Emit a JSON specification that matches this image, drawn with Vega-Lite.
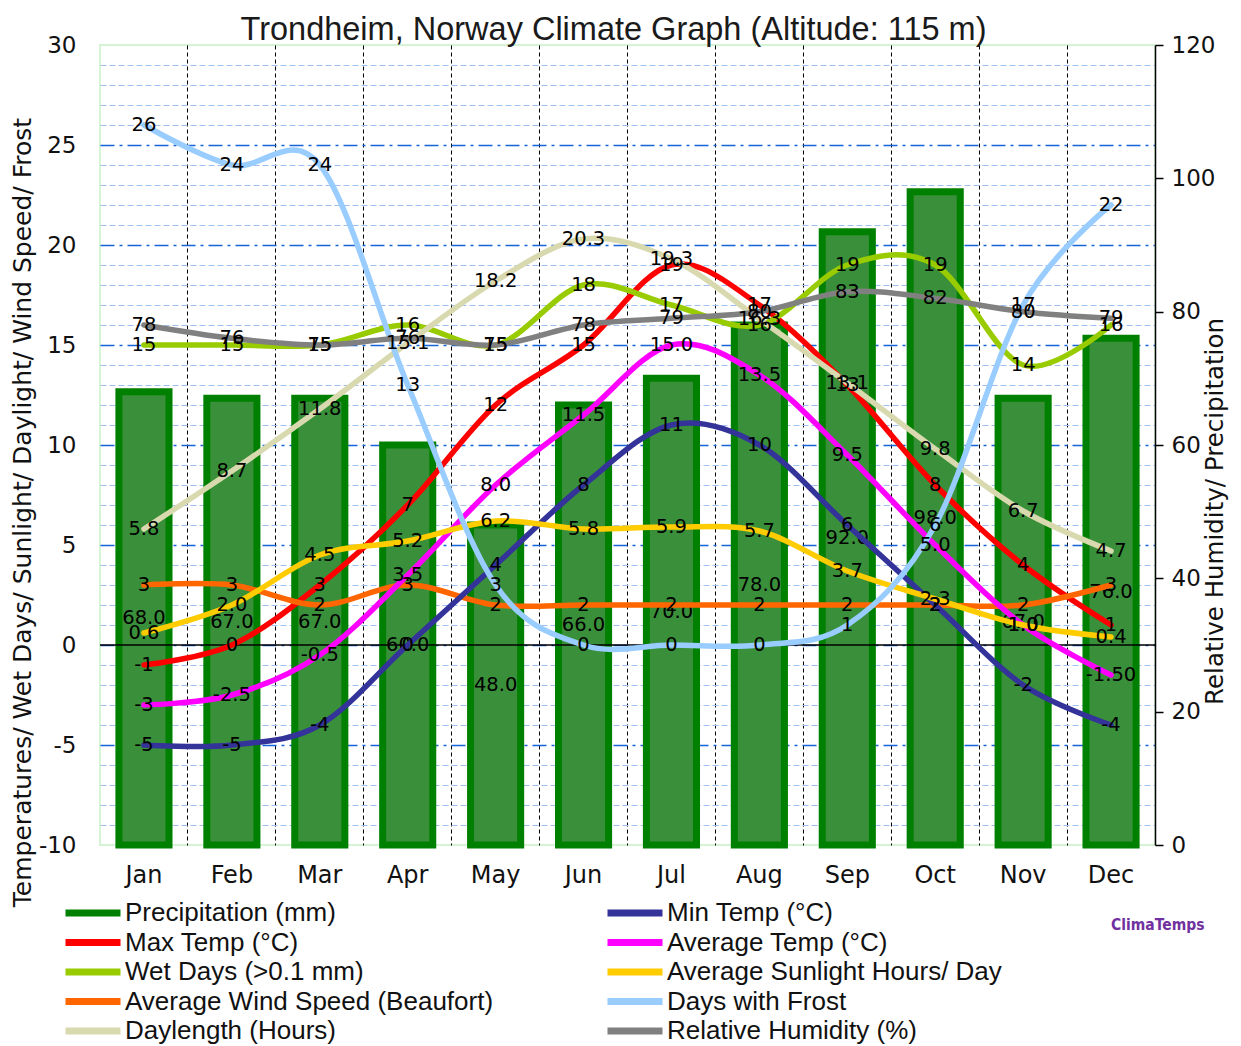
{
"$schema": "https://vega.github.io/schema/vega-lite/v6.json",
"width": 1055, "height": 800,
"autosize": {"type": "none"},
"padding": {"left": 100, "top": 45, "right": 86, "bottom": 201},
"background": "white",
"config": {"view": {"stroke": "#c8f0c8", "strokeWidth": 1.5}, "font": "DejaVu Sans"},
"title": {"text": "Trondheim, Norway Climate Graph (Altitude: 115 m)", "font": "Liberation Sans Narrow, Liberation Sans, sans-serif", "fontSize": 32.5, "fontWeight": "normal", "color": "#1a1a1a", "anchor": "middle", "frame": "group", "offset": 4, "dy": 16, "dx": -14},
"datasets": {"d": [
{"m":"Jan","s":"Precipitation (mm)","v":68,"t":"68.0"},{"m":"Feb","s":"Precipitation (mm)","v":67,"t":"67.0"},{"m":"Mar","s":"Precipitation (mm)","v":67,"t":"67.0"},{"m":"Apr","s":"Precipitation (mm)","v":60,"t":"60.0"},{"m":"May","s":"Precipitation (mm)","v":48,"t":"48.0"},{"m":"Jun","s":"Precipitation (mm)","v":66,"t":"66.0"},{"m":"Jul","s":"Precipitation (mm)","v":70,"t":"70.0"},{"m":"Aug","s":"Precipitation (mm)","v":78,"t":"78.0"},{"m":"Sep","s":"Precipitation (mm)","v":92,"t":"92.0"},{"m":"Oct","s":"Precipitation (mm)","v":98,"t":"98.0"},{"m":"Nov","s":"Precipitation (mm)","v":67,"t":"67.0"},{"m":"Dec","s":"Precipitation (mm)","v":76,"t":"76.0"},
{"m":"Jan","s":"Max Temp (°C)","v":-1,"t":"-1"},{"m":"Feb","s":"Max Temp (°C)","v":0,"t":"0"},{"m":"Mar","s":"Max Temp (°C)","v":3,"t":"3"},{"m":"Apr","s":"Max Temp (°C)","v":7,"t":"7"},{"m":"May","s":"Max Temp (°C)","v":12,"t":"12"},{"m":"Jun","s":"Max Temp (°C)","v":15,"t":"15"},{"m":"Jul","s":"Max Temp (°C)","v":19,"t":"19"},{"m":"Aug","s":"Max Temp (°C)","v":17,"t":"17"},{"m":"Sep","s":"Max Temp (°C)","v":13,"t":"13"},{"m":"Oct","s":"Max Temp (°C)","v":8,"t":"8"},{"m":"Nov","s":"Max Temp (°C)","v":4,"t":"4"},{"m":"Dec","s":"Max Temp (°C)","v":1,"t":"1"},
{"m":"Jan","s":"Wet Days (>0.1 mm)","v":15,"t":"15"},{"m":"Feb","s":"Wet Days (>0.1 mm)","v":15,"t":"15"},{"m":"Mar","s":"Wet Days (>0.1 mm)","v":15,"t":"15"},{"m":"Apr","s":"Wet Days (>0.1 mm)","v":16,"t":"16"},{"m":"May","s":"Wet Days (>0.1 mm)","v":15,"t":"15"},{"m":"Jun","s":"Wet Days (>0.1 mm)","v":18,"t":"18"},{"m":"Jul","s":"Wet Days (>0.1 mm)","v":17,"t":"17"},{"m":"Aug","s":"Wet Days (>0.1 mm)","v":16,"t":"16"},{"m":"Sep","s":"Wet Days (>0.1 mm)","v":19,"t":"19"},{"m":"Oct","s":"Wet Days (>0.1 mm)","v":19,"t":"19"},{"m":"Nov","s":"Wet Days (>0.1 mm)","v":14,"t":"14"},{"m":"Dec","s":"Wet Days (>0.1 mm)","v":16,"t":"16"},
{"m":"Jan","s":"Average Wind Speed (Beaufort)","v":3,"t":"3"},{"m":"Feb","s":"Average Wind Speed (Beaufort)","v":3,"t":"3"},{"m":"Mar","s":"Average Wind Speed (Beaufort)","v":2,"t":"2"},{"m":"Apr","s":"Average Wind Speed (Beaufort)","v":3,"t":"3"},{"m":"May","s":"Average Wind Speed (Beaufort)","v":2,"t":"2"},{"m":"Jun","s":"Average Wind Speed (Beaufort)","v":2,"t":"2"},{"m":"Jul","s":"Average Wind Speed (Beaufort)","v":2,"t":"2"},{"m":"Aug","s":"Average Wind Speed (Beaufort)","v":2,"t":"2"},{"m":"Sep","s":"Average Wind Speed (Beaufort)","v":2,"t":"2"},{"m":"Oct","s":"Average Wind Speed (Beaufort)","v":2,"t":"2"},{"m":"Nov","s":"Average Wind Speed (Beaufort)","v":2,"t":"2"},{"m":"Dec","s":"Average Wind Speed (Beaufort)","v":3,"t":"3"},
{"m":"Jan","s":"Daylength (Hours)","v":5.8,"t":"5.8"},{"m":"Feb","s":"Daylength (Hours)","v":8.7,"t":"8.7"},{"m":"Mar","s":"Daylength (Hours)","v":11.8,"t":"11.8"},{"m":"Apr","s":"Daylength (Hours)","v":15.1,"t":"15.1"},{"m":"May","s":"Daylength (Hours)","v":18.2,"t":"18.2"},{"m":"Jun","s":"Daylength (Hours)","v":20.3,"t":"20.3"},{"m":"Jul","s":"Daylength (Hours)","v":19.3,"t":"19.3"},{"m":"Aug","s":"Daylength (Hours)","v":16.3,"t":"16.3"},{"m":"Sep","s":"Daylength (Hours)","v":13.1,"t":"13.1"},{"m":"Oct","s":"Daylength (Hours)","v":9.8,"t":"9.8"},{"m":"Nov","s":"Daylength (Hours)","v":6.7,"t":"6.7"},{"m":"Dec","s":"Daylength (Hours)","v":4.7,"t":"4.7"},
{"m":"Jan","s":"Min Temp (°C)","v":-5,"t":"-5"},{"m":"Feb","s":"Min Temp (°C)","v":-5,"t":"-5"},{"m":"Mar","s":"Min Temp (°C)","v":-4,"t":"-4"},{"m":"Apr","s":"Min Temp (°C)","v":0,"t":"0"},{"m":"May","s":"Min Temp (°C)","v":4,"t":"4"},{"m":"Jun","s":"Min Temp (°C)","v":8,"t":"8"},{"m":"Jul","s":"Min Temp (°C)","v":11,"t":"11"},{"m":"Aug","s":"Min Temp (°C)","v":10,"t":"10"},{"m":"Sep","s":"Min Temp (°C)","v":6,"t":"6"},{"m":"Oct","s":"Min Temp (°C)","v":2,"t":"2"},{"m":"Nov","s":"Min Temp (°C)","v":-2,"t":"-2"},{"m":"Dec","s":"Min Temp (°C)","v":-4,"t":"-4"},
{"m":"Jan","s":"Average Temp (°C)","v":-3,"t":"-3"},{"m":"Feb","s":"Average Temp (°C)","v":-2.5,"t":"-2.5"},{"m":"Mar","s":"Average Temp (°C)","v":-0.5,"t":"-0.5"},{"m":"Apr","s":"Average Temp (°C)","v":3.5,"t":"3.5"},{"m":"May","s":"Average Temp (°C)","v":8,"t":"8.0"},{"m":"Jun","s":"Average Temp (°C)","v":11.5,"t":"11.5"},{"m":"Jul","s":"Average Temp (°C)","v":15,"t":"15.0"},{"m":"Aug","s":"Average Temp (°C)","v":13.5,"t":"13.5"},{"m":"Sep","s":"Average Temp (°C)","v":9.5,"t":"9.5"},{"m":"Oct","s":"Average Temp (°C)","v":5,"t":"5.0"},{"m":"Nov","s":"Average Temp (°C)","v":1,"t":"1.0"},{"m":"Dec","s":"Average Temp (°C)","v":-1.5,"t":"-1.50"},
{"m":"Jan","s":"Average Sunlight Hours/ Day","v":0.6,"t":"0.6"},{"m":"Feb","s":"Average Sunlight Hours/ Day","v":2,"t":"2.0"},{"m":"Mar","s":"Average Sunlight Hours/ Day","v":4.5,"t":"4.5"},{"m":"Apr","s":"Average Sunlight Hours/ Day","v":5.2,"t":"5.2"},{"m":"May","s":"Average Sunlight Hours/ Day","v":6.2,"t":"6.2"},{"m":"Jun","s":"Average Sunlight Hours/ Day","v":5.8,"t":"5.8"},{"m":"Jul","s":"Average Sunlight Hours/ Day","v":5.9,"t":"5.9"},{"m":"Aug","s":"Average Sunlight Hours/ Day","v":5.7,"t":"5.7"},{"m":"Sep","s":"Average Sunlight Hours/ Day","v":3.7,"t":"3.7"},{"m":"Oct","s":"Average Sunlight Hours/ Day","v":2.3,"t":"2.3"},{"m":"Nov","s":"Average Sunlight Hours/ Day","v":1,"t":"1.0"},{"m":"Dec","s":"Average Sunlight Hours/ Day","v":0.4,"t":"0.4"},
{"m":"Jan","s":"Days with Frost","v":26,"t":"26"},{"m":"Feb","s":"Days with Frost","v":24,"t":"24"},{"m":"Mar","s":"Days with Frost","v":24,"t":"24"},{"m":"Apr","s":"Days with Frost","v":13,"t":"13"},{"m":"May","s":"Days with Frost","v":3,"t":"3"},{"m":"Jun","s":"Days with Frost","v":0,"t":"0"},{"m":"Jul","s":"Days with Frost","v":0,"t":"0"},{"m":"Aug","s":"Days with Frost","v":0,"t":"0"},{"m":"Sep","s":"Days with Frost","v":1,"t":"1"},{"m":"Oct","s":"Days with Frost","v":6,"t":"6"},{"m":"Nov","s":"Days with Frost","v":17,"t":"17"},{"m":"Dec","s":"Days with Frost","v":22,"t":"22"},
{"m":"Jan","s":"Relative Humidity (%)","v":78,"t":"78"},{"m":"Feb","s":"Relative Humidity (%)","v":76,"t":"76"},{"m":"Mar","s":"Relative Humidity (%)","v":75,"t":"75"},{"m":"Apr","s":"Relative Humidity (%)","v":76,"t":"76"},{"m":"May","s":"Relative Humidity (%)","v":75,"t":"75"},{"m":"Jun","s":"Relative Humidity (%)","v":78,"t":"78"},{"m":"Jul","s":"Relative Humidity (%)","v":79,"t":"79"},{"m":"Aug","s":"Relative Humidity (%)","v":80,"t":"80"},{"m":"Sep","s":"Relative Humidity (%)","v":83,"t":"83"},{"m":"Oct","s":"Relative Humidity (%)","v":82,"t":"82"},{"m":"Nov","s":"Relative Humidity (%)","v":80,"t":"80"},{"m":"Dec","s":"Relative Humidity (%)","v":79,"t":"79"}
]},
"data": {"name": "d"},
"layer": [
{
 "transform": [{"filter": "datum.s === 'Precipitation (mm)'"}],
 "mark": {"type": "bar", "fill": "#3a903a", "stroke": "#008000", "strokeWidth": 7, "width": {"band": 0.57}},
 "encoding": {
  "x": {"field": "m", "type": "ordinal", "sort": ["Jan","Feb","Mar","Apr","May","Jun","Jul","Aug","Sep","Oct","Nov","Dec"], "scale": {"paddingInner": 0, "paddingOuter": 0},
   "axis": {"title": null, "bandPosition": 0, "labelAngle": 0, "grid": true, "gridColor": "#000", "gridDash": [4,3], "gridWidth": 1, "gridOpacity": {"condition": {"test": "datum.value === 'Jan'", "value": 0}, "value": 1}, "ticks": false, "domain": false, "labelFontSize": 24, "labelPadding": 18, "labelColor": "#111", "labelFont": "DejaVu Sans"}},
  "y": {"field": "v", "type": "quantitative", "scale": {"domain": [0, 120], "nice": false},
   "axis": {"orient": "right", "title": "Relative Humidity/ Precipitation", "values": [0,20,40,60,80,100,120], "grid": false, "domain": true, "domainColor": "#000", "domainWidth": 1.5, "tickColor": "#000", "tickSize": 8, "tickWidth": 1.5, "labelFontSize": 23, "labelPadding": 8, "labelColor": "#111", "labelFont": "DejaVu Sans", "titleFont": "DejaVu Sans", "titleFontSize": 24.5, "titleFontWeight": "normal", "titleColor": "#111", "titleAngle": 270, "titleX": 60, "titleY": 466, "titleAlign": "center", "titleBaseline": "middle"}}
 }
},
{
 "transform": [{"filter": "datum.s === 'Precipitation (mm)'"}],
 "mark": {"type": "text", "fontSize": 19.5, "font": "DejaVu Sans", "color": "#000", "baseline": "middle"},
 "encoding": {
  "x": {"field": "m", "type": "ordinal", "sort": ["Jan","Feb","Mar","Apr","May","Jun","Jul","Aug","Sep","Oct","Nov","Dec"]},
  "y": {"field": "v", "type": "quantitative", "scale": {"domain": [0, 240], "nice": false}, "axis": null},
  "text": {"field": "t"}
 }
},
{
 "data": {"values": [{"z": 0}]},
 "mark": {"type": "rule", "color": "#000", "strokeWidth": 1.5},
 "encoding": {"y": {"field": "z", "type": "quantitative", "scale": {"domain": [-10, 30], "nice": false, "zero": false}, "axis": null}}
},
{
 "transform": [{"filter": {"field": "s", "oneOf": ["Max Temp (°C)","Wet Days (>0.1 mm)","Average Wind Speed (Beaufort)","Daylength (Hours)","Min Temp (°C)","Average Temp (°C)","Average Sunlight Hours/ Day","Days with Frost"]}}],
 "mark": {"type": "line", "interpolate": "cardinal", "strokeWidth": 5.5, "strokeCap": "round", "strokeJoin": "round"},
 "encoding": {
  "x": {"field": "m", "type": "ordinal", "sort": ["Jan","Feb","Mar","Apr","May","Jun","Jul","Aug","Sep","Oct","Nov","Dec"]},
  "y": {"field": "v", "type": "quantitative", "scale": {"domain": [-10, 30], "nice": false, "zero": false},
   "axis": {"orient": "left", "title": "Temperatures/ Wet Days/ Sunlight/ Daylight/ Wind Speed/ Frost", "values": [-10,-9,-8,-7,-6,-5,-4,-3,-2,-1,0,1,2,3,4,5,6,7,8,9,10,11,12,13,14,15,16,17,18,19,20,21,22,23,24,25,26,27,28,29,30], "labelExpr": "datum.value % 5 === 0 ? replace(datum.label, '−', '-') : ''", "labelOverlap": false, "labelBound": false, "ticks": false, "domain": false, "grid": true,
    "gridColor": {"condition": {"test": "datum.value % 5 === 0", "value": "#1565d8"}, "value": "#9dc0f0"},
    "gridDash": {"condition": {"test": "datum.value % 5 === 0", "value": [14,5,3,5]}, "value": [6,3]},
    "gridWidth": {"condition": {"test": "datum.value % 5 === 0", "value": 1.5}, "value": 1},
    "gridOpacity": {"condition": {"test": "datum.value === 30 || datum.value === -10", "value": 0}, "value": 1},
    "labelFontSize": 23, "labelPadding": 24, "labelColor": "#111", "labelFont": "DejaVu Sans", "titleFont": "DejaVu Sans", "titleFontSize": 25, "titleFontWeight": "normal", "titleColor": "#111", "titleAngle": 270, "titleX": -78, "titleY": 467, "titleAlign": "center", "titleBaseline": "middle"}},
  "color": {"field": "s", "type": "nominal",
   "scale": {"domain": ["Precipitation (mm)","Max Temp (°C)","Wet Days (>0.1 mm)","Average Wind Speed (Beaufort)","Daylength (Hours)","Min Temp (°C)","Average Temp (°C)","Average Sunlight Hours/ Day","Days with Frost","Relative Humidity (%)"],
             "range": ["#008000","#ff0000","#99cc00","#ff6600","#d9d9b0","#333399","#ff00ff","#ffcc00","#99ccff","#808080"]},
   "legend": {"orient": "none", "legendX": -38, "legendY": 855, "columns": 2, "columnPadding": 110, "rowPadding": 3.5, "clipHeight": 26, "symbolType": "stroke", "symbolSize": 3025, "symbolStrokeWidth": 7, "labelFont": "Liberation Sans", "labelFontSize": 26, "labelColor": "#111", "labelOffset": 1, "labelLimit": 0, "title": ["", "ClimaTemps"], "titleLineHeight": 18, "titleOrient": "right", "titleColor": "#7030a0", "titleFont": "DejaVu Sans Condensed", "titleFontSize": 15.5, "titleFontWeight": "bold", "titlePadding": 109, "titleAnchor": "start", "padding": 0}}
 }
},
{
 "transform": [{"filter": "datum.s === 'Relative Humidity (%)'"}],
 "mark": {"type": "line", "interpolate": "cardinal", "strokeWidth": 5.5, "strokeCap": "round", "strokeJoin": "round"},
 "encoding": {
  "x": {"field": "m", "type": "ordinal", "sort": ["Jan","Feb","Mar","Apr","May","Jun","Jul","Aug","Sep","Oct","Nov","Dec"]},
  "y": {"field": "v", "type": "quantitative", "scale": {"domain": [0, 120], "nice": false}, "axis": null},
  "color": {"field": "s", "type": "nominal",
   "scale": {"domain": ["Precipitation (mm)","Max Temp (°C)","Wet Days (>0.1 mm)","Average Wind Speed (Beaufort)","Daylength (Hours)","Min Temp (°C)","Average Temp (°C)","Average Sunlight Hours/ Day","Days with Frost","Relative Humidity (%)"],
             "range": ["#008000","#ff0000","#99cc00","#ff6600","#d9d9b0","#333399","#ff00ff","#ffcc00","#99ccff","#808080"]}}
 }
},
{
 "transform": [{"filter": {"field": "s", "oneOf": ["Max Temp (°C)","Wet Days (>0.1 mm)","Average Wind Speed (Beaufort)","Daylength (Hours)","Min Temp (°C)","Average Temp (°C)","Average Sunlight Hours/ Day","Days with Frost"]}}],
 "mark": {"type": "text", "fontSize": 19.5, "font": "DejaVu Sans", "color": "#000", "baseline": "middle"},
 "encoding": {
  "x": {"field": "m", "type": "ordinal", "sort": ["Jan","Feb","Mar","Apr","May","Jun","Jul","Aug","Sep","Oct","Nov","Dec"]},
  "y": {"field": "v", "type": "quantitative", "scale": {"domain": [-10, 30], "nice": false, "zero": false}, "axis": null},
  "text": {"field": "t"}
 }
},
{
 "transform": [{"filter": "datum.s === 'Relative Humidity (%)'"}],
 "mark": {"type": "text", "fontSize": 19.5, "font": "DejaVu Sans", "color": "#000", "baseline": "middle"},
 "encoding": {
  "x": {"field": "m", "type": "ordinal", "sort": ["Jan","Feb","Mar","Apr","May","Jun","Jul","Aug","Sep","Oct","Nov","Dec"]},
  "y": {"field": "v", "type": "quantitative", "scale": {"domain": [0, 120], "nice": false}, "axis": null},
  "text": {"field": "t"}
 }
}
],
"resolve": {"scale": {"y": "independent"}}
}
